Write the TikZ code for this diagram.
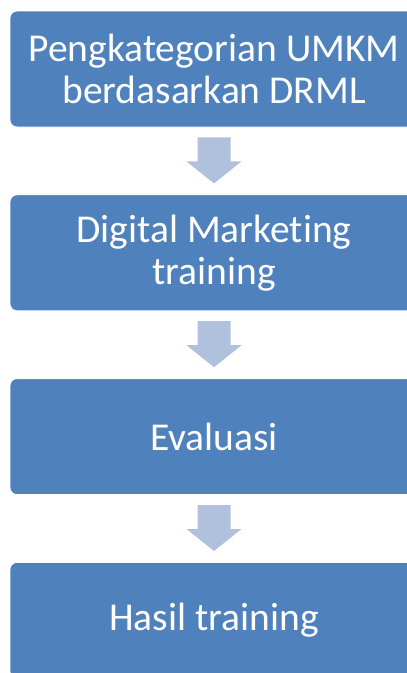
\documentclass[tikz,border=0pt]{standalone}
\usepackage{fontspec}
\setmainfont{Carlito}[Ligatures=NoCommon]
\usetikzlibrary{positioning}
\usetikzlibrary{calc}
\definecolor{boxblue}{HTML}{4F81BD}
\definecolor{arrowblue}{HTML}{B0C1DE}
\tikzset{
    stepnode/.style = {rectangle, rounded corners=7pt, draw=white, line width=0.8pt, fill=boxblue, text=white, align=center, minimum width=408pt, minimum height=116pt, inner sep=0pt, font=\fontsize{39.5}{42}\selectfont},
    downarrow/.style = {fill=arrowblue, draw=none},
}

\begin{document}
\begin{tikzpicture}[x=1pt,y=1pt]
\useasboundingbox (0,0) rectangle (407,-673);
\clip (0,0) rectangle (407,-673);
\node[stepnode] at (214,-69) (1) {Pengkategorian UMKM\\berdasarkan DRML};
\node[stepnode, below=67pt of 1] (2) {Digital Marketing\\training};
\node[stepnode, below=67pt of 2] (3) {Evaluasi};
\node[stepnode, below=67pt of 3] (4) {Hasil training};

\foreach \a/\b in {1/2,2/3,3/4}
  \fill[downarrow] ($(\a.south)+(-16.5,-10)$) -- ($(\a.south)+(16.5,-10)$)
    -- ($(\b.north)+(16.5,33)$) -- ($(\b.north)+(27.5,33)$)
    -- ($(\b.north)+(0,11)$) -- ($(\b.north)+(-27.5,33)$)
    -- ($(\b.north)+(-16.5,33)$) -- cycle;

\end{tikzpicture}
\end{document}
